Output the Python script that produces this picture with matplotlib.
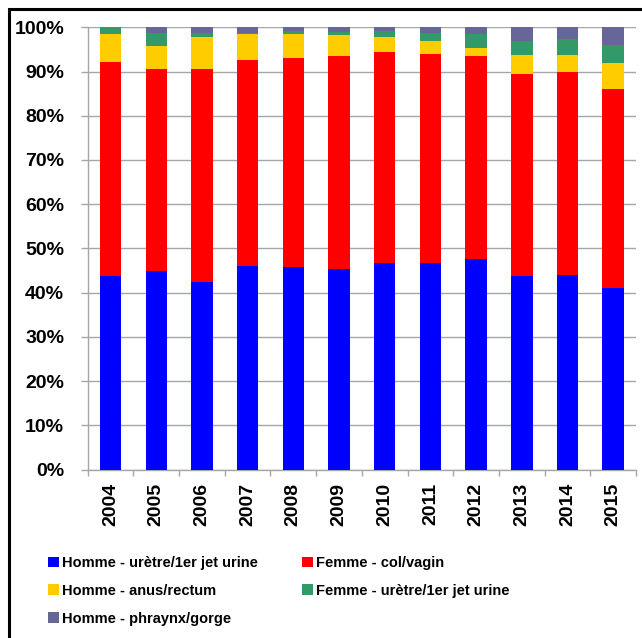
import matplotlib.pyplot as plt
from matplotlib.patches import Patch, Rectangle
from matplotlib.ticker import FixedLocator
import numpy as np

plt.rcParams['font.family'] = ['Liberation Sans', 'DejaVu Sans']
plt.rcParams['font.weight'] = 'bold'

years = ['2004', '2005', '2006', '2007', '2008', '2009',
         '2010', '2011', '2012', '2013', '2014', '2015']
homme_uretre = [43.8, 44.9, 42.5, 46.1, 45.9, 45.4, 46.8, 46.7, 47.5, 43.7, 43.9, 41.0]
femme_col = [48.3, 45.6, 48.0, 46.4, 47.1, 48.2, 47.6, 47.3, 45.9, 45.7, 45.9, 45.1]
homme_anus = [6.4, 5.3, 7.4, 6.0, 5.5, 4.6, 3.3, 2.9, 2.0, 4.4, 4.0, 5.8]
femme_uretre = [1.5, 3.0, 0.8, 0.3, 0.7, 0.8, 1.5, 1.8, 3.1, 3.2, 3.5, 4.0]
homme_pharynx = [0.0, 1.2, 1.3, 1.2, 0.8, 1.0, 0.8, 1.3, 1.5, 3.0, 2.7, 4.1]

series = [
    ("Homme - urètre/1er jet urine", homme_uretre, "#0000FF"),
    ("Femme - col/vagin", femme_col, "#FF0000"),
    ("Homme - anus/rectum", homme_anus, "#FFCC00"),
    ("Femme - urètre/1er jet urine", femme_uretre, "#339966"),
    ("Homme - phraynx/gorge", homme_pharynx, "#666699"),
]

fig = plt.figure(figsize=(6.42, 6.38), dpi=100)
ax = fig.add_axes([0.1366, 0.2641, 0.8541, 0.6931])

x = np.arange(len(years))
bottom = np.zeros(len(years))
for name, vals, col in series:
    ax.bar(x, vals, 0.47, bottom=bottom, color=col, zorder=3)
    bottom += np.array(vals)

ax.set_xlim(-0.5, len(years) - 0.5)
ax.set_ylim(0, 100)
ax.set_yticks(np.arange(0, 101, 10))
ax.set_yticklabels([f"{v}%" for v in range(0, 101, 10)], fontsize=14, fontweight='bold')
ax.set_xticks(x)
ax.set_xticklabels(years, rotation=90, fontsize=14, fontweight='bold')
ax.xaxis.set_minor_locator(FixedLocator(np.arange(-0.5, len(years), 1)))

grid_col = "#a6a6a6"
ax.grid(axis='y', color=grid_col, linewidth=1, zorder=0)
ax.tick_params(axis='x', which='major', length=0, pad=9.5)
ax.tick_params(axis='x', which='minor', length=4, color=grid_col, width=1)
ax.tick_params(axis='y', length=5, color=grid_col, width=1, pad=12)
for s in ['top', 'right']:
    ax.spines[s].set_visible(False)
for s in ['left', 'bottom']:
    ax.spines[s].set_color(grid_col)
    ax.spines[s].set_linewidth(1)

handles = [Patch(facecolor=c) for _, _, c in series]
labels = [n for n, _, _ in series]
order = [0, 2, 4, 1, 3]
fig.legend([handles[i] for i in order], [labels[i] for i in order],
           ncol=2, loc='upper left', bbox_to_anchor=(0.075, 0.1285),
           frameon=False, fontsize=10.5, handlelength=0.75, handleheight=0.75,
           handletextpad=0.2, columnspacing=3.05, labelspacing=0.95,
           borderpad=0, borderaxespad=0)

# black frame around the chart (cut at right/bottom)
fig.patches.append(Rectangle((8.75 / 642, -0.2), 1.5, 1.2 - 8.75 / 638,
                             transform=fig.transFigure, fill=False,
                             edgecolor='black', linewidth=2.2, clip_on=False))

fig.savefig("out.png", dpi=100)
